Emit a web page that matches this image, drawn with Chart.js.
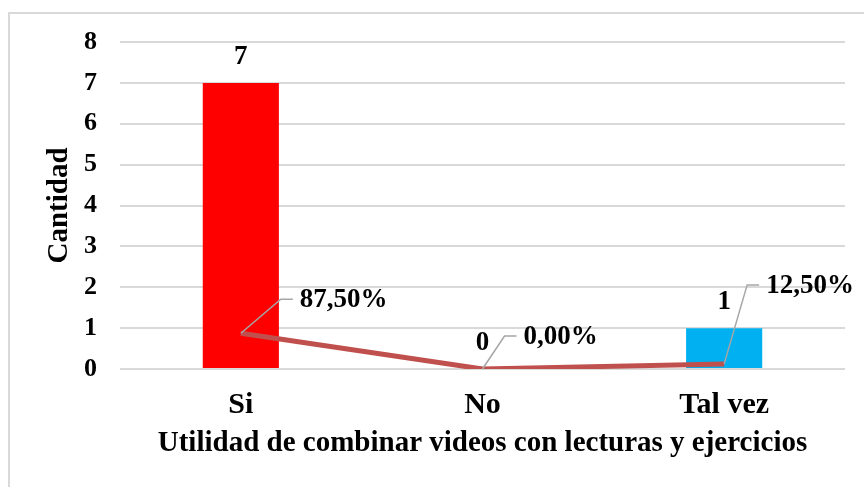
<!DOCTYPE html>
<html>
<head>
<meta charset="utf-8">
<script src="https://cdn.jsdelivr.net/npm/chart.js@4"></script>
<style>
  html, body { margin: 0; padding: 0; background: #fff; }
  #wrap { position: relative; width: 864px; height: 487px; overflow: hidden; }
  #frame { position: absolute; left: 8px; top: 12px; width: 900px; height: 520px;
           border-top: 2px solid #d9d9d9; border-left: 2px solid #d9d9d9; }
  canvas { position: absolute; left: 0; top: 0; }
</style>
</head>
<body>
<div id="wrap">
  <div id="frame"></div>
  <canvas id="chart" width="864" height="487"></canvas>
</div>
<script>
// data
var categories = ['Si', 'No', 'Tal vez'];
var cantidad = [7, 0, 1];
var proporcion = [0.875, 0, 0.125];
var pctLabels = ['87,50%', '0,00%', '12,50%'];
var yTicks = [0, 1, 2, 3, 4, 5, 6, 7, 8];
var barColors = ['#FF0000', '#FF0000', '#00B0F0'];

var FONT = 'Liberation Serif, Times New Roman, serif';

// leader offsets for percent labels (dx, dy of the elbow)
var leaderOffsets = [[40, -34], [22, -33], [23, -79]];

var labelPlugin = {
  id: 'labels',
  afterDatasetsDraw: function (chart) {
    var c = chart.ctx;
    var barMeta = chart.getDatasetMeta(1);
    var lineMeta = chart.getDatasetMeta(0);
    c.save();
    c.font = 'bold 27px ' + FONT;
    c.fillStyle = '#000';
    c.textAlign = 'center';
    c.textBaseline = 'middle';
    barMeta.data.forEach(function (bar, i) {
      c.fillText(String(cantidad[i]), bar.x, bar.y - 26);
    });
    lineMeta.data.forEach(function (pt, i) {
      var off = leaderOffsets[i];
      var ex = pt.x + off[0], ey = pt.y + off[1];
      c.strokeStyle = '#A6A6A6';
      c.lineWidth = 1.5;
      c.beginPath();
      c.moveTo(pt.x, pt.y);
      c.lineTo(ex, ey);
      c.lineTo(ex + 12, ey);
      c.stroke();
      c.textAlign = 'left';
      c.fillText(pctLabels[i], ex + 19, ey + 1);
    });
    c.restore();
  }
};

new Chart(document.getElementById('chart'), {
  data: {
    labels: categories,
    datasets: [{
      type: 'line',
      data: proporcion,
      borderColor: '#C0504D',
      borderWidth: 5,
      pointRadius: 0,
      tension: 0,
      order: 0
    }, {
      type: 'bar',
      data: cantidad,
      backgroundColor: barColors,
      borderWidth: 0,
      categoryPercentage: 1,
      barPercentage: 0.315,
      order: 1
    }]
  },
  options: {
    responsive: false,
    animation: false,
    events: [],
    layout: { padding: { left: 40, right: 19, top: 42, bottom: 20 } },
    plugins: { legend: { display: false }, tooltip: { enabled: false } },
    scales: {
      x: {
        grid: { display: false },
        border: { display: false },
        ticks: { color: '#000', padding: 10, font: { family: FONT, size: 30, weight: 'bold' } },
        title: {
          display: true,
          text: 'Utilidad de combinar videos con lecturas y ejercicios',
          color: '#000',
          padding: { top: 6, bottom: 6 },
          font: { family: FONT, size: 29, weight: 'bold' }
        },
        afterFit: function (s) { s.height = 98; }
      },
      y: {
        min: 0,
        max: 8,
        afterBuildTicks: function (s) { s.ticks = yTicks.map(function (v) { return { value: v }; }); },
        grid: { color: '#D9D9D9', lineWidth: 2, drawTicks: false },
        border: { display: false },
        ticks: { color: '#000', padding: 23, font: { family: FONT, size: 26, weight: 'bold' } },
        title: {
          display: true,
          text: 'Cantidad',
          color: '#000',
          padding: { top: 2, bottom: 2 },
          font: { family: FONT, size: 29, weight: 'bold' }
        },
        afterFit: function (s) { s.width = 80; }
      }
    }
  },
  plugins: [labelPlugin]
});
</script>
</body>
</html>
